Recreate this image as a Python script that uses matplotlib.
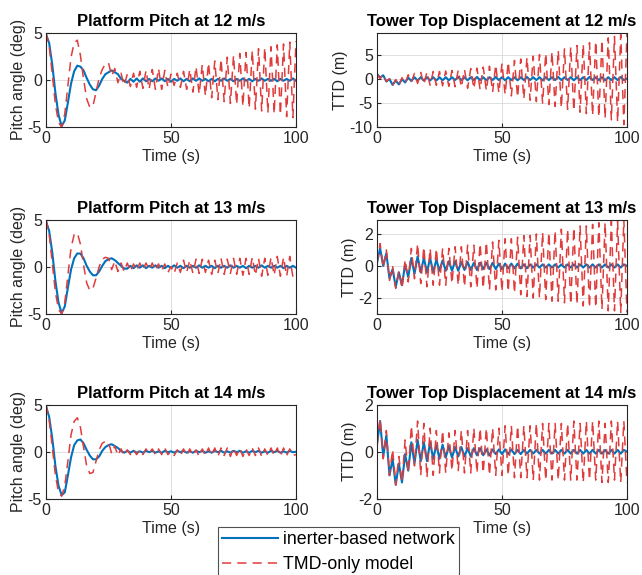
import numpy as np
import matplotlib
matplotlib.use("Agg")
import matplotlib.pyplot as plt

plt.rcParams['font.family'] = ['Liberation Sans', 'DejaVu Sans']
plt.rcParams['axes.unicode_minus'] = False

# --- data (one sample every 1.25 s, 0..100 s) ---
time_s = np.arange(0, 100.01, 1.25)

pitch12_inerter = [4.8, 3.9, 1.6, -1.4, -3.7, -4.9, -4.3, -2.4, -0.4, 0.9, 1.5, 1.4, 1.0, 0.2, -0.5, -1.0, -1.1, -0.6, 0.1, 0.6, 0.8,
                   1.0, 0.8, 0.6, 0.1, -0.1, -0.3, 0.1, -0.2, 0.15, -0.2, 0.15, -0.15, 0.1, -0.15, 0.15, -0.1,
                   0.15, -0.15, 0.1, -0.2, 0.1, -0.1, 0.15, -0.15, 0.1, -0.15, 0.15, -0.1, 0.15, -0.1, 0.1, -0.15,
                   0.1, -0.15, 0.1, -0.1, 0.15, -0.1, 0.1, -0.15, 0.1, -0.1, 0.15, -0.1, 0.1, -0.15, 0.1, -0.1,
                   0.15, -0.1, 0.1, -0.1, 0.1, -0.15, 0.1, -0.1, 0.1, -0.1, 0.15, -0.1]
pitch12_tmd = [5.0, 3.6, 0.6, -2.6, -4.5, -5.0, -3.6, -0.6, 2.4, 3.9, 4.2, 2.6, 0.1, -2.0, -2.9, -2.8, -1.3, 0.2, 1.1, 1.7, 1.8,
               0.4, 1.2, -0.3, 0.7, -0.6, 0.6, -0.7, 0.7, -0.8, 0.9, -0.9, 1.0, -1.0, 1.1, -1.0, 1.2,
               -1.0, 1.0, -0.8, 0.6, -0.6, 0.7, -0.8, 0.9, -1.0, 1.1, -1.3, 1.4, -1.5, 1.6, -1.7, 1.8,
               -1.9, 2.0, -2.1, 2.2, -2.3, 2.4, -2.5, 2.6, -2.6, 2.8, -2.8, 2.9, -3.0, 3.1, -3.1, 3.3,
               -3.3, 3.4, -3.5, 3.5, -3.6, 3.7, -3.7, 3.8, -3.9, 4.0, -4.0, 4.1]

pitch13_inerter = [4.8, 3.8, 1.5, -1.5, -3.8, -4.9, -4.2, -2.2, -0.3, 0.9, 1.4, 1.4, 0.9, 0.1, -0.5, -0.9, -0.9, -0.5, 0.1, 0.6, 0.8,
                   0.9, 0.7, 0.4, 0.1, -0.2, -0.2, 0.1, -0.15, 0.15, -0.1, 0.15, -0.15, 0.1, -0.1, 0.15, -0.1,
                   0.1, -0.15, 0.1, -0.1, 0.15, -0.1, 0.1, -0.15, 0.1, -0.1, 0.1, -0.1, 0.15, -0.1, 0.1, -0.1,
                   0.1, -0.15, 0.1, -0.1, 0.1, -0.1, 0.15, -0.1, 0.1, -0.1, 0.1, -0.15, 0.1, -0.1, 0.1, -0.1,
                   0.15, -0.1, 0.1, -0.1, 0.1, -0.1, 0.1, -0.15, 0.1, -0.1, 0.1, -0.1]
pitch13_tmd = [5.0, 3.5, 0.4, -2.7, -4.5, -5.0, -3.8, -0.9, 2.0, 3.4, 3.6, 2.4, 0.2, -1.7, -2.5, -2.3, -1.2, 0.0, 0.8, 1.0, 0.9,
               -0.3, 0.6, -0.5, 0.4, -0.5, 0.4, -0.5, 0.3, -0.4, 0.4, -0.3, 0.4, -0.3, 0.4, -0.4, 0.3,
               -0.5, 0.3, -0.6, 0.0, -0.7, 0.4, -0.6, 0.7, -0.6, 0.7, -0.7, 0.8, -0.7, 0.8, -0.6, 0.7,
               -0.8, 0.7, -0.7, 0.9, -0.8, 0.8, -0.7, 0.9, -0.8, 0.9, -0.9, 0.9, -0.8, 1.0, -0.9, 0.9,
               -1.0, 0.9, -0.9, 1.0, -0.9, 1.1, -1.0, 1.0, -1.0, 1.1, -1.1, -0.6]

pitch14_inerter = [4.8, 3.7, 1.4, -1.5, -3.6, -4.6, -4.3, -2.5, -0.6, 0.7, 1.2, 1.3, 0.9, 0.2, -0.4, -0.8, -0.8, -0.5, 0.1, 0.5, 0.7,
                   0.8, 0.6, 0.4, 0.1, -0.1, 0.1, -0.1, 0.1, -0.1, 0.05, -0.1, 0.1, -0.05, 0.1, -0.1, 0.05,
                   -0.1, 0.1, -0.05, 0.05, -0.1, 0.1, -0.05, 0.1, -0.1, 0.05, -0.1, 0.1, -0.05, 0.1, -0.1, 0.05,
                   -0.1, 0.1, -0.05, 0.1, -0.1, 0.05, -0.1, 0.1, -0.05, 0.1, -0.1, 0.05, -0.1, 0.1, -0.05, 0.1,
                   -0.1, 0.05, -0.1, 0.1, -0.05, 0.1, -0.1, 0.05, -0.1, 0.1, -0.05, 0.0]
pitch14_tmd = [5.0, 3.4, 0.5, -2.5, -4.3, -4.7, -3.6, -1.0, 1.8, 3.2, 3.6, 2.6, 0.5, -1.5, -2.3, -2.2, -1.0, 0.2, 0.9, 1.1, 1.0,
               -0.2, 0.6, -0.4, 0.3, -0.4, 0.2, -0.3, 0.2, -0.3, 0.2, -0.3, 0.3, -0.2, 0.3, -0.3, 0.3,
               -0.3, 0.4, -0.3, 0.0, -0.4, 0.2, -0.4, 0.3, -0.4, 0.3, -0.4, 0.2, -0.5, 0.3, -0.4, 0.4,
               -0.4, 0.4, -0.5, 0.4, -0.4, 0.4, -0.5, 0.4, -0.4, 0.4, -0.5, 0.3, -0.4, 0.4, -0.4, 0.4,
               -0.5, 0.3, -0.4, 0.4, -0.4, 0.4, -0.5, 0.4, -0.4, 0.3, -0.4, -0.3]

ttd12_inerter = [1.0, 0.2, 0.7, -0.6, -0.1, -1.3, -0.4, -1.2, -0.1, -0.8, 0.2, -0.5, 0.3, -0.4, 0.3, -0.4, 0.3, -0.4, 0.3, -0.4, 0.3,
                 -0.35, 0.3, -0.35, 0.3, -0.3, 0.35, -0.3, 0.3, -0.35, 0.3, -0.3, 0.35, -0.3, 0.3, -0.35, 0.3,
                 -0.3, 0.35, -0.3, 0.3, -0.35, 0.3, -0.3, 0.3, -0.35, 0.3, -0.3, 0.35, -0.3, 0.3, -0.3, 0.3,
                 -0.35, 0.3, -0.3, 0.3, -0.3, 0.35, -0.3, 0.3, -0.3, 0.3, -0.35, 0.3, -0.3, 0.3, -0.3, 0.35,
                 -0.3, 0.3, -0.3, 0.3, -0.35, 0.3, -0.3, 0.3, -0.3, 0.35, -0.3, 0.0]
ttd12_tmd = [1.0, 0.0, 0.9, -0.6, 0.0, -1.4, -0.2, -1.5, 0.2, -1.0, 0.8, -0.7, 1.1, -1.0, 1.3, -1.2, 1.4, -1.4, 1.5, -1.4, 1.5,
             -1.5, 1.6, -1.6, 1.7, -1.7, 1.8, -1.8, 1.9, -2.0, 2.1, -2.1, 2.2, -2.3, 2.4, -2.5, 2.6,
             -2.8, 2.9, -3.0, 3.2, -3.3, 3.5, -3.6, 3.8, -3.9, 4.1, -4.2, 4.4, -4.5, 4.7, -4.8, 5.0,
             -5.1, 5.3, -5.4, 5.6, -5.8, 5.9, -6.1, 6.2, -6.4, 6.6, -6.7, 6.9, -7.0, 7.2, -7.3, 7.5,
             -7.7, 7.8, -8.0, 8.1, -8.3, 8.5, -8.6, 8.8, -9.0, 9.2, -9.6, 9.4]

ttd13_inerter = [0.2, 1.1, 0.0, 0.8, -0.8, -0.2, -1.3, -0.4, -1.2, 0.1, -0.7, 0.5, -0.5, 0.6, -0.4, 0.5, -0.4, 0.5, -0.4, 0.4, -0.3,
                 0.35, -0.3, 0.3, -0.3, 0.3, -0.3, 0.25, -0.25, 0.25, -0.25, 0.2, -0.25, 0.2, -0.2, 0.2, -0.2,
                 0.2, -0.2, 0.15, -0.2, 0.15, -0.15, 0.15, -0.15, 0.15, -0.15, 0.1, -0.15, 0.1, -0.1, 0.1, -0.1,
                 0.1, -0.1, 0.1, -0.1, 0.1, -0.1, 0.1, -0.1, 0.1, -0.1, 0.1, -0.1, 0.1, -0.1, 0.1, -0.1,
                 0.1, -0.1, 0.1, -0.1, 0.1, -0.1, 0.1, -0.1, 0.1, -0.1, 0.1, 0.0]
ttd13_tmd = [0.2, 1.4, -0.1, 1.0, -0.9, 0.0, -1.4, -0.3, -1.4, 0.4, -1.0, 1.1, -0.8, 1.4, -1.1, 1.2, -1.3, 1.1, -1.2, 1.1, -1.2,
             1.1, -1.2, 1.1, -1.1, 1.2, -1.2, 1.2, -1.3, 1.3, -1.3, 1.3, -1.4, 1.4, -1.4, 1.5, -1.5,
             1.5, -1.5, 1.6, -1.6, 1.7, -1.6, 1.7, -1.7, 1.8, -1.8, 1.9, -1.9, 1.9, -2.0, 2.0, -2.0,
             2.1, -2.1, 2.1, -2.2, 2.2, -2.2, 2.3, -2.3, 2.3, -2.4, 2.4, -2.4, 2.5, -2.5, 2.5, -2.6,
             2.6, -2.6, 2.7, -2.7, 2.7, -2.8, 2.8, -2.8, 2.8, -2.9, 2.9, -2.9]

ttd14_inerter = [0.3, 1.3, -0.2, 0.7, -1.0, -0.3, -1.4, -0.5, -1.3, -0.1, -0.8, 0.4, -0.5, 0.5, -0.4, 0.4, -0.4, 0.4, -0.3, 0.3, -0.3,
                 0.3, -0.25, 0.25, -0.25, 0.2, -0.2, 0.2, -0.2, 0.15, -0.2, 0.15, -0.15, 0.15, -0.15, 0.1, -0.15,
                 0.1, -0.1, 0.1, -0.1, 0.1, -0.1, 0.1, -0.1, 0.08, -0.1, 0.08, -0.08, 0.08, -0.08, 0.08, -0.08,
                 0.08, -0.08, 0.08, -0.08, 0.08, -0.08, 0.08, -0.08, 0.08, -0.08, 0.08, -0.08, 0.08, -0.08, 0.08, -0.08,
                 0.08, -0.08, 0.08, -0.08, 0.08, -0.08, 0.08, -0.08, 0.08, -0.08, 0.08, 0.0]
ttd14_tmd = [0.3, 1.4, -0.3, 0.9, -1.0, 0.1, -1.4, -0.2, -1.3, 0.5, -0.9, 1.1, -0.6, 1.3, -1.0, 1.2, -1.1, 1.0, -1.0, 0.9, -0.9,
             0.9, -0.9, 0.8, -0.8, 0.9, -0.8, 0.9, -0.9, 0.9, -0.9, 1.0, -0.9, 1.0, -0.9, 1.0, -1.0,
             1.0, -1.0, 1.0, -1.0, 1.1, -1.0, 1.1, -1.1, 1.1, -1.1, 1.1, -1.1, 1.1, -1.2, 1.2, -1.2,
             1.2, -1.2, 1.2, -1.2, 1.2, -1.2, 1.2, -1.2, 1.2, -1.2, 1.3, -1.2, 1.2, -1.3, 1.3, -1.2,
             1.3, -1.2, 1.3, -1.3, 1.2, -1.3, 1.3, -1.2, 1.3, -1.3, 1.3, -1.3]

wind_speeds = [12, 13, 14]
pitch_inerter = [pitch12_inerter, pitch13_inerter, pitch14_inerter]
pitch_tmd = [pitch12_tmd, pitch13_tmd, pitch14_tmd]
ttd_inerter = [ttd12_inerter, ttd13_inerter, ttd14_inerter]
ttd_tmd = [ttd12_tmd, ttd13_tmd, ttd14_tmd]

pitch_ylim = (-5, 5)
ttd_ylims = [(-10.1, 9.6), (-3.0, 2.9), (-2, 2)]
ttd_yticks = [[-10, -5, 0, 5], [-2, 0, 2], [-2, 0, 2]]

color_inerter = '#0072BD'
color_tmd = '#E03C3C'
txt_color = '#262626'

# --- figure ---
fig = plt.figure(figsize=(6.42, 5.75), dpi=100)
fila_y0 = [0.779, 0.4539, 0.1322]
alto = 0.1643
ancho = 0.3894


def estilo(ax, ylim, yticks):
    ax.set_xlim(0, 100)
    ax.set_ylim(*ylim)
    ax.set_xticks([0, 50, 100])
    ax.set_yticks(yticks)
    ax.grid(True, color='#dedede', linewidth=0.7)
    ax.set_axisbelow(True)
    ax.tick_params(direction='in', length=3, labelsize=11.5, colors=txt_color, pad=3)
    for s in ax.spines.values():
        s.set_color(txt_color)
        s.set_linewidth(0.8)
    ax.set_xlabel('Time (s)', fontsize=11.5, color=txt_color, labelpad=2)


lineas = None
for fila, v in enumerate(wind_speeds):
    axl = fig.add_axes([0.0717, fila_y0[fila], ancho, alto])
    l1, = axl.plot(time_s, pitch_inerter[fila], color=color_inerter, lw=1.5)
    l2, = axl.plot(time_s, pitch_tmd[fila], color=color_tmd, lw=1.1, dashes=(6, 4))
    estilo(axl, pitch_ylim, [-5, 0, 5])
    axl.set_ylabel('Pitch angle (deg)', fontsize=11.5, color=txt_color, labelpad=1)
    axl.set_title(f'Platform Pitch at {v} m/s', fontsize=12, fontweight='bold', pad=5)
    lineas = (l1, l2)

    axr = fig.add_axes([0.5872, fila_y0[fila], ancho, alto])
    axr.plot(time_s, ttd_inerter[fila], color=color_inerter, lw=1.5)
    axr.plot(time_s, ttd_tmd[fila], color=color_tmd, lw=1.1, dashes=(6, 4))
    estilo(axr, ttd_ylims[fila], ttd_yticks[fila])
    axr.set_ylabel('TTD (m)', fontsize=11.5, color=txt_color, labelpad=1)
    axr.set_title(f'Tower Top Displacement at {v} m/s', fontsize=12, fontweight='bold', pad=5)

leg = fig.legend(lineas, ['inerter-based network', 'TMD-only model'],
                 loc='upper left', bbox_to_anchor=(218 / 642, 1 - 527 / 575),
                 fontsize=12.8, frameon=True, fancybox=False, handlelength=3.1,
                 borderpad=0.25, labelspacing=0.45, handletextpad=0.3, borderaxespad=0)
leg.get_frame().set_edgecolor('#262626')
leg.get_frame().set_linewidth(0.8)

fig.savefig('out.png', dpi=100)
